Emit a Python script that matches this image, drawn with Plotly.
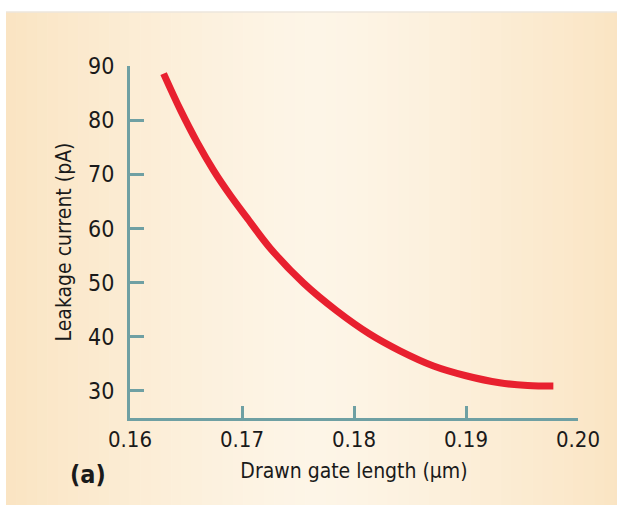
import plotly.graph_objects as go

# Data
gate_length_um = [0.1630, 0.1645, 0.1660, 0.1675, 0.1690, 0.1704, 0.1725, 0.1755,
                  0.17845, 0.1814, 0.1841, 0.1871, 0.1900, 0.1930, 0.1955, 0.1978]
leakage_pA = [88.6, 81.9, 75.9, 70.6, 66.0, 62.1, 56.4, 49.9,
              44.8, 40.5, 37.4, 34.6, 32.8, 31.5, 31.0, 30.9]

x_ticks = [0.16, 0.17, 0.18, 0.19, 0.20]
x_ticklabels = ["0.16", "0.17", "0.18", "0.19", "0.20"]
y_ticks = [30, 40, 50, 60, 70, 80, 90]

W, H = 617, 508
# plot area in window pixels: x 130..578, y 66..418
L, T = 130, 66
R = W - 578
B = H - 418
pw, ph = W - L - R, H - T - B

def px_to_paper_x(px):
    return (px - L) / pw

def px_to_paper_y(py):
    return (H - B - py) / ph

# Horizontal beige gradient background (lighter in the middle)
edge = (250, 228, 194)
mid = (253, 245, 231)
shapes = []
n = 60
x0p, x1p = 6, 625
for i in range(n):
    t = (i + 0.5) / n
    w = 1 - abs(2 * t - 1.0) ** 1.3
    c = tuple(int(round(edge[k] + (mid[k] - edge[k]) * w)) for k in range(3))
    xa = x0p + (x1p - x0p) * i / n
    xb = x0p + (x1p - x0p) * (i + 1) / n + 0.6
    shapes.append(dict(type="rect", xref="paper", yref="paper",
                       x0=px_to_paper_x(xa), x1=px_to_paper_x(xb),
                       y0=px_to_paper_y(505), y1=px_to_paper_y(12),
                       fillcolor="rgb(%d,%d,%d)" % c, line=dict(width=0), layer="below"))
shapes.append(dict(type="line", xref="paper", yref="paper",
                   x0=px_to_paper_x(6), x1=px_to_paper_x(625),
                   y0=px_to_paper_y(12), y1=px_to_paper_y(12),
                   line=dict(color="#ece6dc", width=1.5), layer="below"))

font_family = "DejaVu Sans Condensed, Liberation Sans Narrow, Arial Narrow, sans-serif"
axis_color = "#6fa0a3"
txt = "#1a1a1a"

fig = go.Figure()
fig.add_trace(go.Scatter(
    x=gate_length_um, y=leakage_pA, mode="lines",
    line=dict(color="#e8202f", width=7, shape="spline", smoothing=1.0),
    showlegend=False, hoverinfo="skip"))

fig.update_layout(
    width=W, height=H,
    margin=dict(l=L, r=R, t=T, b=B, pad=0),
    paper_bgcolor="white", plot_bgcolor="rgba(0,0,0,0)",
    shapes=shapes,
    font=dict(family=font_family, size=23, color=txt),
    xaxis=dict(range=[0.16, 0.20], tickvals=x_ticks, ticktext=x_ticklabels,
               showgrid=False, zeroline=False, showline=True, linecolor=axis_color,
               linewidth=3, ticks="inside", ticklen=12, tickwidth=3, tickcolor=axis_color,
               tickfont=dict(size=22, family=font_family, color=txt),
               title=dict(text="Drawn gate length (µm)", standoff=12,
                          font=dict(size=21, family=font_family, color=txt))),
    yaxis=dict(range=[25, 90], tickvals=y_ticks,
               showgrid=False, zeroline=False, showline=True, linecolor=axis_color,
               linewidth=3, ticks="inside", ticklen=14, tickwidth=3, tickcolor=axis_color,
               ticklabelstandoff=8,
               tickfont=dict(size=23, family=font_family, color=txt),
               title=dict(text="Leakage current (pA)", standoff=11,
                          font=dict(size=21, family=font_family, color=txt))),
    annotations=[dict(text="<b>(a)</b>", xref="paper", yref="paper",
                      x=px_to_paper_x(88), y=px_to_paper_y(474),
                      xanchor="center", yanchor="middle", showarrow=False,
                      font=dict(size=25, family=font_family, color=txt))],
)

fig.write_html("out.html",
               config={"displayModeBar": False},
               post_script="document.body.style.margin='0';document.body.style.overflow='hidden';")
